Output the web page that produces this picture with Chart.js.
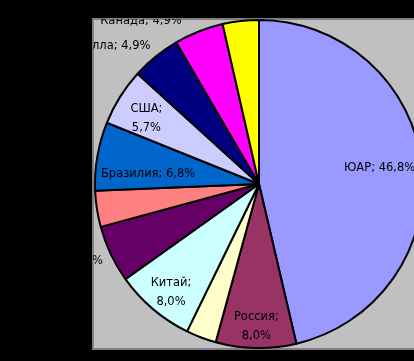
<!DOCTYPE html>
<html>
<head>
<meta charset="utf-8">
<script src="https://cdn.jsdelivr.net/npm/chart.js@4.4.1/dist/chart.umd.min.js"></script>
<style>
  html, body { margin: 0; padding: 0; background: #000; overflow: hidden; width: 414px; height: 361px; }
  canvas { display: block; }
</style>
</head>
<body>
<canvas id="c" width="600" height="361"></canvas>
<script>
// ---- data ----
const categories = ['ЮАР', 'Россия', 'Гана', 'Китай', 'Австралия', 'Зимбабве', 'Бразилия', 'США', 'Венесуэлла', 'Канада', 'Филиппины'];
const shares = [46.8, 8.0, 3.0, 8.0, 5.7, 3.6, 6.8, 5.7, 4.9, 4.9, 3.6];
const sliceColors = ['#9999FF', '#993366', '#FFFFCC', '#CCFFFF', '#660066', '#FF8080', '#0066CC', '#CCCCFF', '#000080', '#FF00FF', '#FFFF00'];

// label layout (style only): radius factor, alignment, two-line flag, pixel nudge
const labelLayout = [
  { r: 0.74, align: 'center', two: false, dx: 0, dy: -2 },
  { r: 0.86, align: 'center', two: true, dx: 0, dy: 2 },
  { r: 1.12, align: 'center', two: false, dx: 0, dy: 0 },
  { r: 0.83, align: 'center', two: true, dx: 0, dy: 5 },
  { r: 1.08, align: 'right', two: false, dx: 4, dy: 1 },
  { r: 1.10, align: 'right', two: false, dx: 0, dy: 0 },
  { r: 0.68, align: 'center', two: false, dx: -1, dy: 9 },
  { r: 0.81, align: 'center', two: true, dx: 0, dy: 5 },
  { r: 1.07, align: 'right', two: false, dx: 2, dy: -2 },
  { r: 1.10, align: 'right', two: false, dx: -11, dy: 5 },
  { r: 1.14, align: 'center', two: false, dx: 0, dy: 0 }
];

const fmt = v => v.toFixed(1).replace('.', ',') + '%';

const PLOT = { left: 92, top: 18, bottom: 349 };

const bgPlugin = {
  id: 'bg',
  beforeDraw(chart) {
    const ctx = chart.ctx;
    ctx.save();
    ctx.fillStyle = '#000000';
    ctx.fillRect(0, 0, chart.width, chart.height);
    ctx.fillStyle = '#C0C0C0';
    ctx.fillRect(PLOT.left, PLOT.top, chart.width - PLOT.left + 10, PLOT.bottom - PLOT.top);
    ctx.strokeStyle = '#808080';
    ctx.lineWidth = 2;
    ctx.strokeRect(PLOT.left + 1, PLOT.top + 1, chart.width, PLOT.bottom - PLOT.top - 1);
    ctx.restore();
  }
};

const labelPlugin = {
  id: 'sliceLabels',
  afterDatasetsDraw(chart) {
    const ctx = chart.ctx;
    const meta = chart.getDatasetMeta(0);
    ctx.save();
    ctx.beginPath();
    ctx.rect(PLOT.left + 1, PLOT.top + 1, chart.width, PLOT.bottom - PLOT.top - 2);
    ctx.clip();
    ctx.font = '11.5px "DejaVu Sans"';
    ctx.fillStyle = '#000000';
    ctx.textBaseline = 'middle';
    meta.data.forEach((arc, i) => {
      const p = arc.getProps(['x', 'y', 'startAngle', 'endAngle', 'outerRadius'], true);
      const mid = (p.startAngle + p.endAngle) / 2;
      const lay = labelLayout[i];
      const rr = p.outerRadius * lay.r;
      const x = p.x + Math.cos(mid) * rr + lay.dx;
      const y = p.y + Math.sin(mid) * rr + lay.dy;
      ctx.textAlign = lay.align;
      if (lay.two) {
        ctx.fillText(categories[i] + ';', x, y - 9.5);
        ctx.fillText(fmt(shares[i]), x, y + 9.5);
      } else {
        ctx.fillText(categories[i] + '; ' + fmt(shares[i]), x, y);
      }
    });
    ctx.restore();
  }
};

new Chart(document.getElementById('c'), {
  type: 'pie',
  data: {
    labels: categories,
    datasets: [{
      data: shares,
      backgroundColor: sliceColors,
      borderColor: '#000000',
      borderWidth: 2
    }]
  },
  options: {
    responsive: false,
    animation: false,
    layout: { padding: { left: 94, top: 19, right: 176, bottom: 12 } },
    plugins: { legend: { display: false }, tooltip: { enabled: false } }
  },
  plugins: [bgPlugin, labelPlugin]
});
</script>
</body>
</html>
